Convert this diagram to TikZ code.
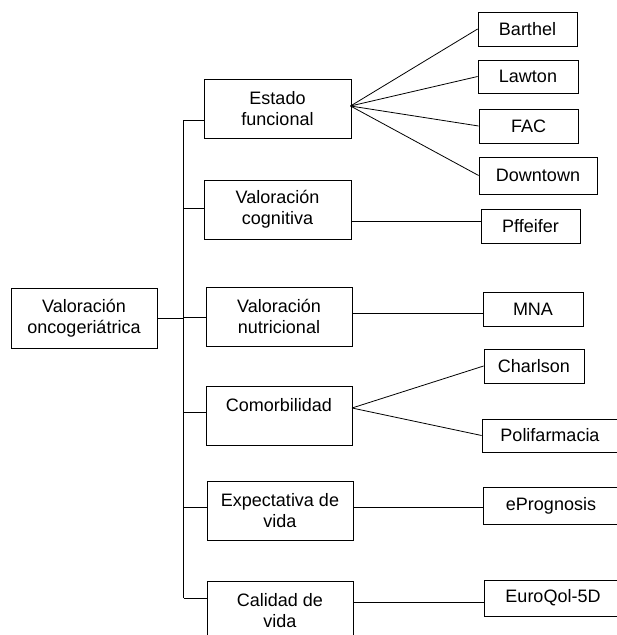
\documentclass[tikz,border=0pt]{standalone}
\usepackage{fontspec}
\setmainfont{Liberation Sans}
\begin{document}
\begin{tikzpicture}[x=1pt,y=-1pt,
  font=\fontsize{18}{21}\selectfont,
  box/.style={draw, line width=0.8pt, inner sep=0pt, align=center},
  mid/.style={box, minimum width=146pt, minimum height=59pt},
  leaf/.style={box, minimum width=100pt, minimum height=34pt},
  ln/.style={line width=0.8pt}]
\useasboundingbox (0,0) rectangle (617,635);
\clip (0,0) rectangle (617,635);

% root
\node[box, minimum width=146pt, minimum height=60pt] (root) at (84,318) {Valoración\\oncogeriátrica};

% level 1
\node[mid, minimum width=147pt] (estado) at (277.5,108.5) {Estado\\funcional};
\node[mid, minimum width=147pt] (cogn) at (277.5,209.5) {Valoración\\cognitiva};
\node[mid] (nutri) at (279,316.5) {Valoración\\nutricional};
\node[mid] (comor) at (279,415.5) {Comorbilidad\\\mbox{}};
\node[mid] (expect) at (280,510.5) {Expectativa de\\vida};
\node[mid] (calid) at (280,610.5) {Calidad de\\vida};

% leaves
\node[leaf, minimum width=99pt] (barthel) at (527.5,29) {Barthel};
\node[leaf, minimum height=33pt] (lawton) at (528,76.5) {Lawton};
\node[leaf, minimum width=99pt] (fac) at (528.5,126) {FAC};
\node[leaf, minimum width=118pt, minimum height=37pt] (down) at (538,175.5) {Downtown};
\node[leaf, minimum width=99pt] (pfe) at (530.5,226) {Pffeifer};
\node[leaf] (mna) at (533,309) {MNA};
\node[leaf] (charl) at (534,366) {Charlson};
\node[leaf, minimum width=136pt, minimum height=33pt] (poli) at (550,435.5) {Polifarmacia};
\node[leaf, minimum width=136pt, minimum height=37pt] (eprog) at (551,505.5) {ePrognosis};
\node[leaf, minimum width=138pt, minimum height=36pt] (euro) at (553,598) {EuroQol-5D};

% trunk
\coordinate (ttop) at (183.5,120);
\coordinate (tbot) at (183.5,598);
\draw[ln] (ttop) -- (tbot);
\draw[ln] (root.east) -- (root.east -| ttop);
\draw[ln] (ttop) -- (estado.west |- ttop);
\draw[ln] (cogn.west |- 0,208) -- (ttop |- 0,208);
\draw[ln] (nutri.west |- 0,317) -- (ttop |- 0,317);
\draw[ln] (comor.west |- 0,412) -- (ttop |- 0,412);
\draw[ln] (expect.west |- 0,507) -- (ttop |- 0,507);
\draw[ln] (tbot) -- (calid.west |- tbot);

% right connectors
\coordinate (ef) at (350.5,106);
\draw[ln] (ef) -- (barthel.west);
\draw[ln] (ef) -- (lawton.west);
\draw[ln] (ef) -- (fac.west);
\draw[ln] (ef) -- (down.west);
\draw[ln] (cogn.east |- 0,221) -- (pfe.west |- 0,221);
\draw[ln] (nutri.east |- 0,313) -- (mna.west |- 0,313);
\coordinate (cm) at (352,408);
\draw[ln] (cm) -- (charl.west);
\draw[ln] (cm) -- (poli.west);
\draw[ln] (expect.east |- 0,507) -- (eprog.west |- 0,507);
\draw[ln] (calid.east |- 0,602) -- (euro.west |- 0,602);
\end{tikzpicture}
\end{document}
